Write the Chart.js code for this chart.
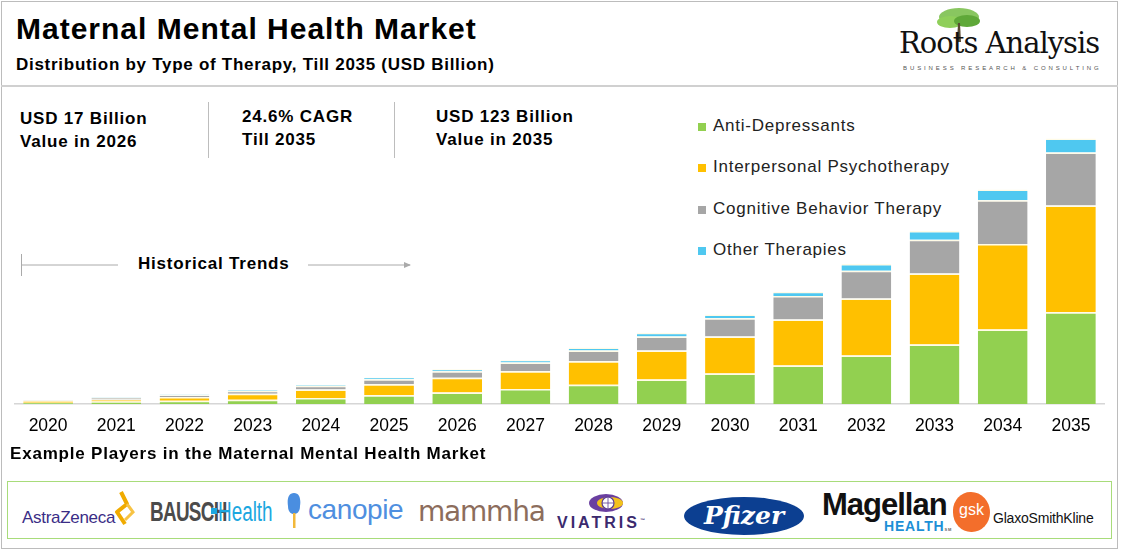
<!DOCTYPE html>
<html>
<head>
<meta charset="utf-8">
<script src="https://cdn.jsdelivr.net/npm/chart.js@4.4.1/dist/chart.umd.min.js"></script>
<style>
  body { margin: 0; width: 1123px; height: 553px; background: #fff; font-family: "Liberation Sans", Arial, sans-serif; color: #000; position: relative; overflow: hidden; }
  .abs { position: absolute; }
  .frame { left: 1px; top: 1px; width: 1115px; height: 546px; border: 1px solid #bcbcbc; }
  .hsep { left: 1px; top: 85px; width: 1117px; height: 2px; background: #d0d0d0; }
  .title { left: 16px; top: 12px; font-size: 30px; font-weight: bold; letter-spacing: 1px; }
  .subtitle { left: 16px; top: 55px; font-size: 17px; font-weight: bold; letter-spacing: 0.72px; }
  .stat { font-size: 17px; font-weight: bold; line-height: 23px; letter-spacing: 0.8px; }
  .vsep { width: 1px; background: #bdbdbd; top: 102px; height: 56px; }
  .legend { left: 698px; top: 116px; font-size: 17px; color: #222; letter-spacing: 0.75px; }
  .legend div { height: 41.3px; display: flex; align-items: flex-start; }
  .legend span.sw { width: 8px; height: 8px; display: inline-block; margin: 7px 7px 0 0; }
  .hist { left: 138px; top: 254px; font-size: 17px; font-weight: bold; letter-spacing: 0.8px; }
  .players { left: 10px; top: 444px; font-size: 17px; font-weight: bold; letter-spacing: 0.8px; }
  .logos { left: 7px; top: 481px; width: 1103px; height: 56px; border: 1px solid #a8dc7a; }
</style>
</head>
<body>
<div class="abs frame"></div>
<div class="abs hsep"></div>
<div class="abs title">Maternal Mental Health Market</div>
<div class="abs subtitle">Distribution by Type of Therapy, Till 2035 (USD Billion)</div>

<!-- Roots Analysis logo -->
<svg class="abs" style="left:933px;top:6px" width="52" height="36" viewBox="0 0 52 36">
  <ellipse cx="26" cy="11" rx="20" ry="9" fill="#7cc04f" opacity="0.9"/>
  <ellipse cx="17" cy="16" rx="13" ry="6" fill="#8fcf5a"/>
  <ellipse cx="34" cy="15" rx="13" ry="6" fill="#5fa838"/>
  <path d="M25 17 L24 36 L28 36 L27 17 Z" fill="#5a4a32"/>
</svg>
<div class="abs" style="left:899px;top:26px;font-family:'DejaVu Serif',serif;font-size:29px;letter-spacing:-1px;color:#111">Roots Analysis</div>
<div class="abs" style="left:903px;top:65px;font-size:6px;letter-spacing:2.9px;color:#555">BUSINESS RESEARCH &amp; CONSULTING</div>

<!-- key numbers -->
<div class="abs stat" style="left:20px;top:107px">USD 17 Billion<br>Value in 2026</div>
<div class="abs vsep" style="left:208px"></div>
<div class="abs stat" style="left:242px;top:105px">24.6% CAGR<br>Till 2035</div>
<div class="abs vsep" style="left:394px"></div>
<div class="abs stat" style="left:436px;top:105px">USD 123 Billion<br>Value in 2035</div>

<div class="abs legend" id="legend"></div>

<!-- historical trends marker -->
<svg class="abs" style="left:0;top:250px" width="420" height="30">
  <line x1="21.5" y1="4" x2="21.5" y2="26" stroke="#aaa" stroke-width="1"/>
  <line x1="21" y1="15" x2="118" y2="15" stroke="#aaa" stroke-width="1"/>
  <line x1="308" y1="15" x2="410" y2="15" stroke="#aaa" stroke-width="1"/>
  <path d="M404 12 L411 15 L404 18 Z" fill="#aaa"/>
</svg>
<div class="abs hist">Historical Trends</div>

<div class="abs" style="left:14px;top:120px;width:1091px;height:329px">
  <canvas id="chart"></canvas>
</div>

<div class="abs players">Example Players in the Maternal Mental Health Market</div>
<div class="abs logos"></div>

<!-- player logos -->
<div class="abs" style="left:22px;top:508px;font-size:17px;color:#3a2d86;letter-spacing:-0.3px">AstraZeneca</div>
<svg class="abs" style="left:113px;top:490px" width="22" height="36" viewBox="0 0 22 36">
  <path d="M8 2 L14 14 L4 22 L12 34" stroke="#f0ab00" stroke-width="4" fill="none" stroke-linejoin="round"/>
  <path d="M14 14 L20 22 L12 30" stroke="#f7c344" stroke-width="3" fill="none"/>
</svg>
<div class="abs" style="left:150px;top:497px;font-size:27px;font-weight:bold;color:#4b4b4b;transform:scaleX(0.7);transform-origin:left;letter-spacing:-1px">BAUSCH</div>
<div class="abs" style="left:211px;top:508px;width:6px;height:6px;background:#1ba7e0"></div>
<div class="abs" style="left:218px;top:497px;font-size:27px;color:#1ba7e0;transform:scaleX(0.7);transform-origin:left">Health</div>
<svg class="abs" style="left:286px;top:492px" width="16" height="38" viewBox="0 0 16 38">
  <path d="M8 1 C2 1 1 8 2 14 C2 20 5 22 8 22 C11 22 14 20 14 14 C15 8 14 1 8 1 Z" fill="#4a8ee0"/>
  <rect x="7" y="21" width="2.5" height="15" fill="#f2b83a"/>
</svg>
<div class="abs" style="left:308px;top:494px;font-size:28px;color:#4f8fe0;letter-spacing:-0.4px">canopie</div>
<div class="abs" style="left:418px;top:495px;font-size:28px;color:#8c6d5c;font-family:'DejaVu Sans',sans-serif;letter-spacing:-1.2px">mammha</div>
<svg class="abs" style="left:588px;top:492px" width="40" height="22" viewBox="0 0 40 22">
  <ellipse cx="18" cy="11" rx="17" ry="9" fill="#6a3fa0"/>
  <ellipse cx="22" cy="11" rx="13" ry="6" fill="#f2c21c"/>
  <circle cx="20" cy="11" r="6" fill="#fff" stroke="#5a3d95" stroke-width="1.2"/>
  <line x1="14" y1="11" x2="26" y2="11" stroke="#5a3d95" stroke-width="0.8"/>
  <line x1="20" y1="5" x2="20" y2="17" stroke="#5a3d95" stroke-width="0.8"/>
</svg>
<div class="abs" style="left:557px;top:514px;font-size:16px;font-weight:bold;color:#3b2a6e;letter-spacing:3px">VIATRIS<sup style="font-size:5px">™</sup></div>
<div class="abs" style="left:684px;top:497px;width:120px;height:38px;border-radius:50%;background:#0c3f91;color:#fff;font-family:'DejaVu Serif',serif;font-style:italic;font-weight:bold;font-size:25px;text-align:center;line-height:37px">Pfizer</div>
<div class="abs" style="left:822px;top:487px;font-size:31px;font-weight:bold;color:#111;letter-spacing:-1px">Magellan</div>
<div class="abs" style="left:884px;top:518px;font-size:14px;font-weight:bold;color:#1d8fd6;letter-spacing:0.8px">HEALTH<span style="font-size:4px;color:#666">SM</span></div>
<div class="abs" style="left:953px;top:492px;width:37px;height:40px;border-radius:48% 52% 50% 50%;background:#f36e2b;color:#fff;font-size:16px;text-align:center;line-height:36px">gsk</div>
<div class="abs" style="left:993px;top:510px;font-size:14px;color:#111;letter-spacing:-0.2px">GlaxoSmithKline</div>

<script>
// Market size by therapy type, USD billion
const years = ['2020', '2021', '2022', '2023', '2024', '2025', '2026', '2027',
               '2028', '2029', '2030', '2031', '2032', '2033', '2034', '2035'];
const antiDepressants = [0.6, 1.1, 1.5, 2.0, 2.8, 4.1, 5.3, 7.0, 8.9, 11.3, 14.1, 17.8, 22.5, 27.5, 34.5, 42.5];
const interpersonal   = [0.8, 1.0, 1.7, 2.8, 3.9, 5.1, 6.8, 8.2, 10.9, 13.5, 17.2, 21.3, 26.3, 32.9, 39.6, 49.4];
const cognitive       = [0.2, 0.8, 0.9, 1.2, 1.7, 2.3, 3.1, 4.0, 5.0, 6.5, 8.4, 10.9, 12.9, 15.7, 20.2, 24.5];
const otherTherapies  = [0.1, 0.2, 0.3, 0.4, 0.5, 0.8, 0.9, 1.1, 1.4, 1.7, 1.7, 2.0, 3.1, 4.0, 5.0, 6.5];

const seriesNames  = ['Anti-Depressants', 'Interpersonal Psychotherapy', 'Cognitive Behavior Therapy', 'Other Therapies'];
const seriesColors = ['#92D050', '#FFC000', '#A6A6A6', '#4FC8F0'];
const seriesData   = [antiDepressants, interpersonal, cognitive, otherTherapies];

const datasets = seriesData.map((d, i) => ({
    label: seriesNames[i],
    data: d,
    backgroundColor: seriesColors[i],
    borderColor: '#fffbe6',
    borderWidth: { top: 1.5, right: 0, bottom: 0, left: 0 },
    borderSkipped: false,
    barPercentage: 0.73,
    categoryPercentage: 1
}));

// legend drawn as html so it can sit inside the plot like the original
const legendEl = document.getElementById('legend');
seriesNames.forEach((name, i) => {
    const row = document.createElement('div');
    row.innerHTML = `<span class="sw" style="background:${seriesColors[i]}"></span>${name}`;
    legendEl.appendChild(row);
});

new Chart(document.getElementById('chart'), {
    type: 'bar',
    data: { labels: years, datasets: datasets },
    options: {
        responsive: true,
        maintainAspectRatio: false,
        animation: false,
        layout: { padding: 0 },
        plugins: { legend: { display: false }, tooltip: { enabled: false } },
        scales: {
            x: {
                stacked: true,
                grid: { display: false, drawTicks: false },
                border: { display: true, color: '#d6d6d6', width: 1.5 },
                ticks: { color: '#000', padding: 12, font: { size: 17.5, family: 'Liberation Sans' } }
            },
            y: {
                stacked: true,
                display: false,
                min: 0,
                max: 131.5
            }
        }
    }
});
</script>
</body>
</html>
